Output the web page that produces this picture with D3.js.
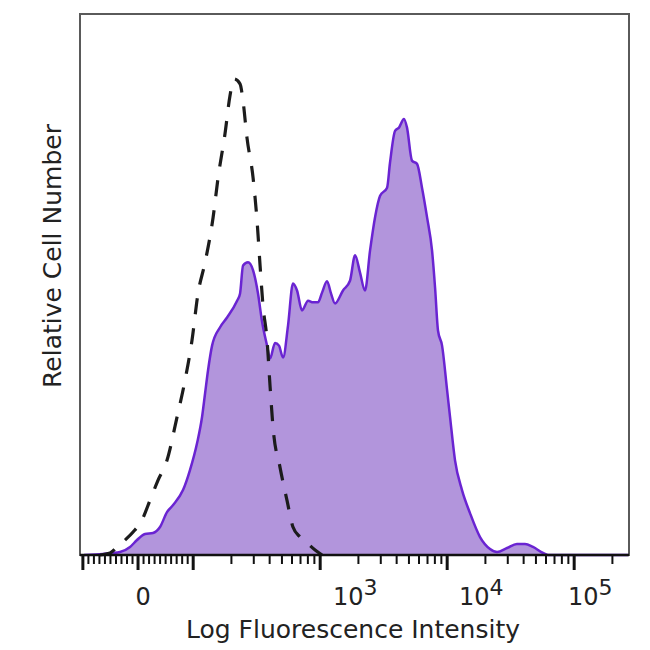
<!DOCTYPE html>
<html>
<head>
<meta charset="utf-8">
<script src="https://cdn.jsdelivr.net/npm/d3@7"></script>
<style>
  html, body { margin: 0; padding: 0; background: #fff; }
  svg { display: block; }
</style>
</head>
<body>
<svg id="chart" width="650" height="650"></svg>
<script>
// ---- Data (x in logicle display units: 1 unit = 1 decade, 0 = zero fluorescence) ----
const stainedX = [-0.425,-0.276,-0.142,-0.063,-0.008,0.055,0.118,0.173,0.228,0.276,0.354,0.409,0.465,0.504,0.528,0.551,0.583,0.646,0.701,0.780,0.803,0.827,0.866,0.906,0.945,0.976,1.016,1.039,1.079,1.110,1.142,1.181,1.220,1.252,1.291,1.339,1.378,1.417,1.449,1.488,1.520,1.551,1.614,1.669,1.709,1.748,1.787,1.827,1.866,1.906,1.961,1.984,2.024,2.055,2.094,2.118,2.157,2.197,2.236,2.276,2.315,2.339,2.362,2.394,2.433,2.457,2.496,2.551,2.614,2.693,2.772,2.827,2.906,2.984,3.047,3.110,3.189,3.228,3.858];
const stainedCount = [0,0.2,0.55,1.48,2.77,3.87,4.06,5.17,7.93,9.23,12.0,15.7,20.7,25.5,29.9,34.1,38.7,42.1,43.9,47.0,48.3,53.5,54.1,52.6,48.3,43.2,38.7,36.3,39.2,38.7,36.5,42.4,50.2,48.9,45.2,47.0,46.7,46.7,48.5,50.6,48.3,46.5,48.9,50.7,55.4,52.2,48.9,56.3,62.4,66.4,67.9,72.5,78.4,79.0,80.6,79.0,72.9,72.3,67.9,62.4,56.3,49.4,41.5,38.7,30.6,25.5,17.5,12.0,7.75,3.32,1.11,0.55,1.29,2.03,2.03,1.48,0.37,0,0];
const isotypeX = [-0.299,-0.220,-0.157,-0.102,-0.039,0.031,0.094,0.157,0.228,0.307,0.370,0.425,0.472,0.528,0.591,0.630,0.685,0.724,0.756,0.803,0.827,0.858,0.906,0.937,0.961,0.984,1.016,1.039,1.063,1.118,1.173,1.220,1.276,1.331,1.394,1.449];
const isotypeCount = [0,0.37,1.66,2.77,4.24,6.46,10.1,13.8,17.5,25.5,32.3,39.7,48.3,54.1,62.4,69.7,77.9,84.9,88.0,87.1,83.9,77.1,69.7,61.8,53.5,46.1,39.7,31.4,23.6,16.2,10.1,5.17,3.32,2.21,0.92,0];

const majorTickValues = [-100, 0, 100, 1000, 10000, 100000];
const tickLabelValues = [0, 1000, 10000, 100000];
const tickLabelBase = ["0", "10", "10", "10"];
const tickLabelExp = ["", "3", "4", "5"];
const xTitle = "Log Fluorescence Intensity";
const yTitle = "Relative Cell Number";

// ---- Logicle-like transform (linear below 100, log above) ----
const LIN = 100;
function T(v) {
  const a = Math.abs(v);
  const s = v < 0 ? -1 : 1;
  if (a <= LIN) return v / (LIN * Math.LN10);
  return s * (1 / Math.LN10 + Math.log10(a / LIN));
}
// minor ticks
const minorTickValues = [];
for (let k = 1; k <= 9; k++) { minorTickValues.push(k * 10, -k * 10); }
[100, 1000, 10000, 100000].forEach(d => { for (let k = 2; k <= 9; k++) minorTickValues.push(k * d); });

// ---- Layout ----
const mLeft = 80, mRight = 629, mTop = 14, mBottom = 555;
const svg = d3.select("#chart");

const x = d3.scaleLinear().domain([-0.457, 3.866]).range([mLeft, mRight]);
const y = d3.scaleLinear().domain([0, 100]).range([mBottom, mTop]);

const stained = stainedX.map((d, i) => [d, stainedCount[i]]);
const isotype = isotypeX.map((d, i) => [d, isotypeCount[i]]);

const area = d3.area().x(d => x(d[0])).y0(y(0)).y1(d => y(d[1])).curve(d3.curveMonotoneX);
const line = d3.line().x(d => x(d[0])).y(d => y(d[1])).curve(d3.curveMonotoneX);

// plot frame
svg.append("rect")
  .attr("x", mLeft).attr("y", mTop)
  .attr("width", mRight - mLeft).attr("height", mBottom - mTop)
  .attr("fill", "none").attr("stroke", "#5a5a5a").attr("stroke-width", 2);

// stained histogram
svg.append("path").datum(stained)
  .attr("d", area).attr("fill", "#b295dc").attr("stroke", "none");
svg.append("path").datum(stained)
  .attr("d", line).attr("fill", "none").attr("stroke", "#6a24d2")
  .attr("stroke-width", 2.5).attr("stroke-linejoin", "round");

// isotype control (dashed)
svg.append("path").datum(isotype)
  .attr("d", line).attr("fill", "none").attr("stroke", "#1c1c1c")
  .attr("stroke-width", 3.2).attr("stroke-dasharray", "16,14");

// bottom axis line
svg.append("line")
  .attr("x1", mLeft).attr("x2", mRight).attr("y1", mBottom).attr("y2", mBottom)
  .attr("stroke", "#111").attr("stroke-width", 2.5);

// ticks
const [d0, d1] = x.domain();
svg.append("g").selectAll("line").data(minorTickValues.filter(v => T(v) >= d0 && T(v) <= d1))
  .join("line")
  .attr("x1", v => x(T(v))).attr("x2", v => x(T(v)))
  .attr("y1", mBottom).attr("y2", mBottom + 9)
  .attr("stroke", "#111").attr("stroke-width", 2);
svg.append("g").selectAll("line").data(majorTickValues.filter(v => T(v) >= d0 - 0.01 && T(v) <= d1))
  .join("line")
  .attr("x1", v => Math.max(mLeft + 1, x(T(v)))).attr("x2", v => Math.max(mLeft + 1, x(T(v))))
  .attr("y1", mBottom).attr("y2", mBottom + 15)
  .attr("stroke", "#111").attr("stroke-width", 3);

// tick labels
const labelDx = [5, 35, 34, 16];
const lbl = svg.append("g")
  .attr("font-family", "'DejaVu Sans', Verdana, sans-serif")
  .attr("fill", "#222");
tickLabelValues.forEach((v, i) => {
  const t = lbl.append("text")
    .attr("x", x(T(v)) + labelDx[i]).attr("y", 605)
    .attr("text-anchor", "middle").attr("font-size", 24);
  t.append("tspan").text(tickLabelBase[i]);
  if (tickLabelExp[i]) {
    t.append("tspan").attr("dy", -10).attr("font-size", 22).text(tickLabelExp[i]);
  }
});

// axis titles
svg.append("text")
  .attr("x", 353).attr("y", 638)
  .attr("text-anchor", "middle")
  .attr("font-family", "'DejaVu Sans', Verdana, sans-serif")
  .attr("font-size", 25).attr("fill", "#222")
  .text(xTitle);

svg.append("text")
  .attr("transform", "translate(61,256) rotate(-90)")
  .attr("text-anchor", "middle")
  .attr("font-family", "'DejaVu Sans', Verdana, sans-serif")
  .attr("font-size", 25).attr("fill", "#222")
  .text(yTitle);
</script>
</body>
</html>
